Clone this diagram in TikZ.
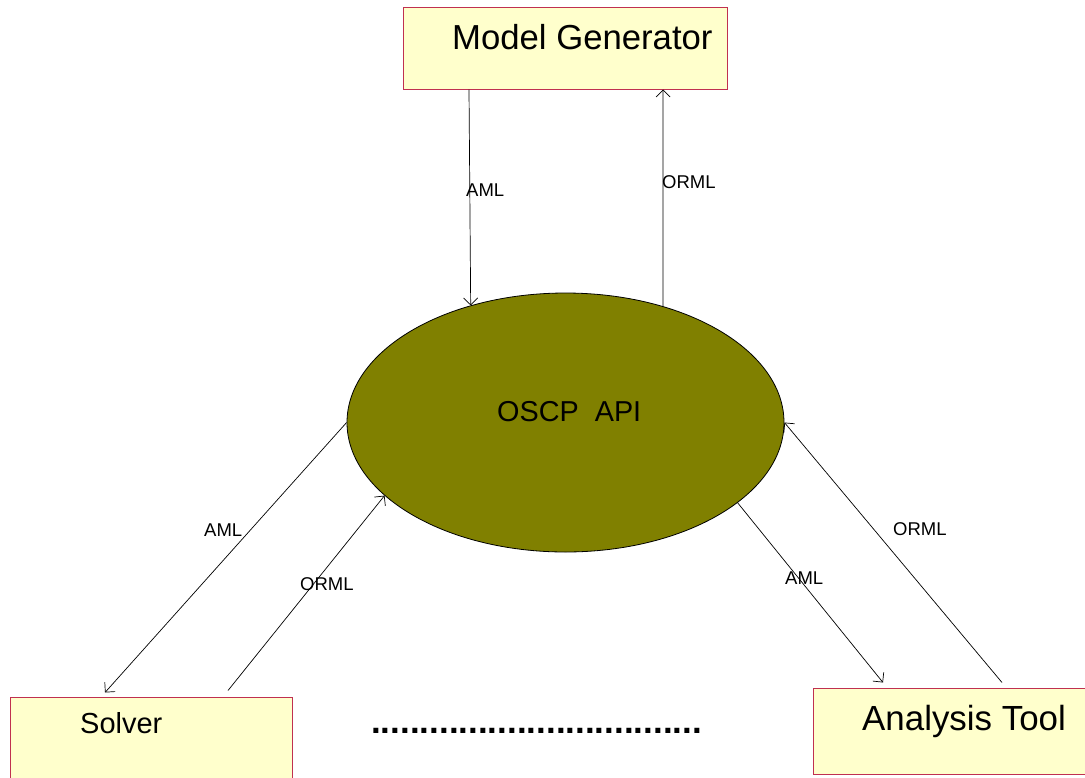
\documentclass[tikz,border=0pt]{standalone}
\usepackage{fontspec}
\setmainfont{Liberation Sans}
\usetikzlibrary{arrows.meta,shapes.geometric}
\definecolor{boxfill}{RGB}{255,255,204}
\definecolor{boxline}{RGB}{192,48,80}
\definecolor{apifill}{RGB}{128,128,0}

\begin{document}
\begin{tikzpicture}[x=1pt,y=-1pt,
  tool/.style={draw=boxline, fill=boxfill, line width=1pt, rectangle, inner sep=0pt},
  link/.style={draw=black, line width=0.7pt, -{Straight Barb[length=7pt,width=14pt]}},
  tag/.style={anchor=base west, font=\fontsize{18.5}{20}\selectfont, inner sep=0pt},
  title/.style={anchor=base west, inner sep=0pt}]
\useasboundingbox (0,0) rectangle (1085,777);
\clip (0,0) rectangle (1085,777);

% tool boxes
\node[tool, minimum width=324pt, minimum height=82pt] (mg) at (565,48) {};
\node[tool, minimum width=282pt, minimum height=93pt] (sol) at (151,743.5) {};
\node[tool, minimum width=272pt, minimum height=86pt] (an) at (949,731) {};

% box titles
\node[title, font=\fontsize{34.7}{36}\selectfont] (mgt) at (452,49.5) {Model Generator};
\node[title, font=\fontsize{29}{31}\selectfont] (solt) at (80,733.5) {Solver};
\node[title, font=\fontsize{34.9}{36}\selectfont] (ant) at (862,730.5) {Analysis Tool};

% central API
\node[ellipse, draw=black, fill=apifill, line width=0.8pt, minimum width=437pt,
      minimum height=259pt, inner sep=0pt] (api) at (565.5,422.5) {};
\node[title, font=\fontsize{28.8}{30}\selectfont] (apit) at (497,421) {OSCP\ \ API};

% more tools to come
\node[title, font=\fontsize{35}{36}\selectfont\bfseries] (more) at (371,733)
  {..................................};

% message flows
\draw[link] ([xshift=-96pt]mg.south) -- (api.129.9);
\draw[link] (api.50.3) -- ([xshift=98pt]mg.south);
\draw[link] (api.180) -- ([xshift=-46pt,yshift=4pt]sol.north);
\draw[link] ([xshift=77pt,yshift=6pt]sol.north) -- (api.202.9);
\draw[link] (api.335.5) -- ([xshift=-66pt,yshift=5pt]an.north);
\draw[link] ([xshift=53pt,yshift=5pt]an.north) -- (api.0);

% flow labels
\node[tag] (l1) at (466,196.5) {AML};
\node[tag] (l2) at (662,188.5) {ORML};
\node[tag] (l3) at (204,536.5) {AML};
\node[tag] (l4) at (300,590.5) {ORML};
\node[tag] (l5) at (785,584) {AML};
\node[tag] (l6) at (893,535) {ORML};
\end{tikzpicture}
\end{document}
